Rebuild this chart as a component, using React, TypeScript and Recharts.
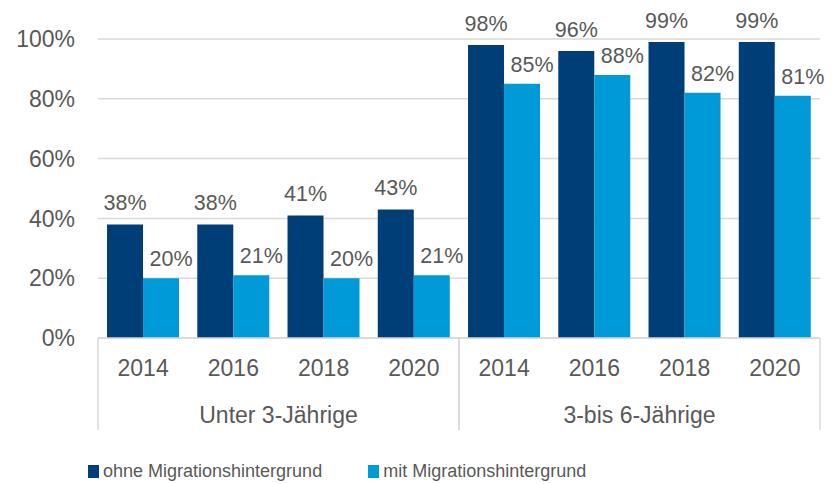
import React from 'react';
import { BarChart, Bar, XAxis, YAxis, CartesianGrid, Legend, LabelList } from 'recharts';

const years = ['2014', '2016', '2018', '2020', '2014', '2016', '2018', '2020'];
const groups = [
  'Unter 3-Jährige', 'Unter 3-Jährige', 'Unter 3-Jährige', 'Unter 3-Jährige',
  '3-bis 6-Jährige', '3-bis 6-Jährige', '3-bis 6-Jährige', '3-bis 6-Jährige',
];
const ohneValues = [38, 38, 41, 43, 98, 96, 99, 99];
const mitValues = [20, 21, 20, 21, 85, 88, 82, 81];
const yTicks = [0, 20, 40, 60, 80, 100];
const seriesNames = ['ohne Migrationshintergrund', 'mit Migrationshintergrund'];

const data = years.map((y, i) => ({ year: y, group: groups[i], ohne: ohneValues[i], mit: mitValues[i] }));

const FONT = '"Liberation Sans", Arial, sans-serif';
const TEXT = '#595959';
const GRID = '#D9D9D9';
const DARK = '#003E78';
const LIGHT = '#009AD8';
const seriesColors = [DARK, LIGHT];

const GroupTick = (props: any) => {
  const { x, y, payload, width } = props;
  const half = payload.offset || width / 4;
  return (
    <g>
      <line x1={x - half} x2={x - half} y1={y - 45} y2={y + 47} stroke={GRID} strokeWidth={1.5} />
      <line x1={x + half} x2={x + half} y1={y - 45} y2={y + 47} stroke={GRID} strokeWidth={1.5} />
      <text x={x} y={y + 40} textAnchor="middle" fill={TEXT} fontSize={23} fontFamily={FONT}>
        {payload.value}
      </text>
    </g>
  );
};

const renderLegend = () => (
  <div style={{ display: 'flex', alignItems: 'center', marginLeft: 88, height: 30, fontFamily: FONT }}>
    {seriesNames.map((name, i) => (
      <div key={i} style={{ display: 'flex', alignItems: 'center', marginRight: 46 }}>
        <span style={{ display: 'inline-block', width: 11, height: 13, background: seriesColors[i], marginRight: 4 }} />
        <span style={{ fontSize: 18, color: TEXT, lineHeight: '22px' }}>{name}</span>
      </div>
    ))}
  </div>
);

export default function App() {
  return (
    <div style={{ position: 'absolute', left: 0, top: 0, width: 837, height: 484, background: '#fff' }}>
      <BarChart
        width={837}
        height={484}
        data={data}
        margin={{ top: 39, right: 17, left: 0, bottom: 21 }}
        barGap={0}
        barCategoryGap="10%"
      >
        <CartesianGrid vertical={false} stroke={GRID} strokeWidth={1.5} />
        <YAxis
          width={98}
          domain={[0, 100]}
          ticks={yTicks}
          tickFormatter={(v: number) => `${v}%`}
          axisLine={false}
          tickLine={false}
          tickSize={0}
          tickMargin={23}
          tick={{ fill: TEXT, fontSize: 23, fontFamily: FONT }}
        />
        <XAxis
          dataKey="year"
          height={45}
          axisLine={{ stroke: GRID, strokeWidth: 1.5 }}
          tickLine={false}
          tickSize={0}
          tickMargin={22}
          interval={0}
          tick={{ fill: TEXT, fontSize: 23, fontFamily: FONT }}
        />
        <XAxis
          xAxisId="group"
          dataKey="group"
          allowDuplicatedCategory={false}
          height={50}
          axisLine={false}
          tickLine={false}
          tickSize={0}
          tickMargin={0}
          interval={0}
          tick={<GroupTick />}
        />
        <Legend
          verticalAlign="bottom"
          content={renderLegend}
          wrapperStyle={{ left: 0, top: 456, width: 837, height: 30 }}
        />
        <Bar dataKey="ohne" name={seriesNames[0]} fill={DARK} isAnimationActive={false}>
          <LabelList
            dataKey="ohne"
            position="top"
            offset={14}
            formatter={(v: any) => `${v}%`}
            fill={TEXT}
            fontSize={21.5}
            fontFamily={FONT}
          />
        </Bar>
        <Bar dataKey="mit" name={seriesNames[1]} fill={LIGHT} isAnimationActive={false}>
          <LabelList
            dataKey="mit"
            position="top"
            offset={12}
            dx={10}
            formatter={(v: any) => `${v}%`}
            fill={TEXT}
            fontSize={21.5}
            fontFamily={FONT}
          />
        </Bar>
      </BarChart>
    </div>
  );
}
